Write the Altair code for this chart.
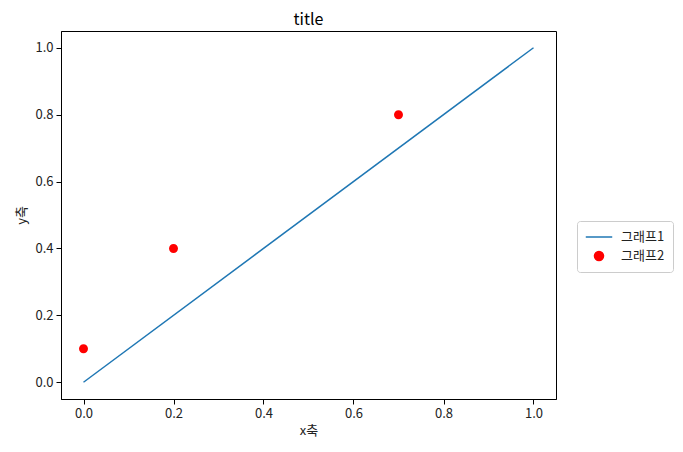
import altair as alt
import pandas as pd

line_x = [0.0, 1.0]
line_y = [0.0, 1.0]
pt_x = [0.0, 0.2, 0.7]
pt_y = [0.1, 0.4, 0.8]
series = ["그래프1", "그래프2"]
colors = ["#1f77b4", "#ff0000"]
ticks = [0.0, 0.2, 0.4, 0.6, 0.8, 1.0]

line_df = pd.DataFrame({"x": line_x, "y": line_y, "s": series[0]})
pt_df = pd.DataFrame({"x": pt_x, "y": pt_y, "s": series[1]})

FONT = "Noto Sans CJK KR"

LINE_PATH = "M-1,0L1,0"
CIRCLE_PATH = "M-0.34,0A0.34,0.34 0 1,0 0.34,0A0.34,0.34 0 1,0 -0.34,0Z"

xs = alt.Scale(domain=[-0.05, 1.05], nice=False, zero=False)
ys = alt.Scale(domain=[-0.05, 1.05], nice=False, zero=False)

xax = alt.Axis(values=ticks, format=".1f", title="x축", grid=False)
yax = alt.Axis(values=ticks, format=".1f", title="y축", grid=False)

color = alt.Color("s:N", scale=alt.Scale(domain=series, range=colors),
                  legend=alt.Legend(title=None, orient="none", legendX=516, legendY=190))
shape = alt.Shape("s:N", scale=alt.Scale(domain=series, range=[LINE_PATH, CIRCLE_PATH]),
                  legend=alt.Legend(title=None, orient="none", legendX=516, legendY=190))

line = alt.Chart(line_df).mark_line(strokeWidth=1.5).encode(
    x=alt.X("x:Q", scale=xs, axis=xax),
    y=alt.Y("y:Q", scale=ys, axis=yax),
    color=color,
)
pts = alt.Chart(pt_df).mark_point(filled=True, size=700, opacity=1).encode(
    x=alt.X("x:Q", scale=xs, axis=xax),
    y=alt.Y("y:Q", scale=ys, axis=yax),
    color=color,
    shape=shape,
)

chart = alt.layer(line, pts).properties(
    width=495, height=368,
    title=alt.Title("title", fontSize=16, font=FONT, fontWeight="normal", offset=3),
    autosize=alt.AutoSizeParams(type="none"),
    padding={"left": 53, "top": 23, "right": 119, "bottom": 45},
).configure_view(
    stroke="black", strokeWidth=1
).configure_axis(
    labelFont=FONT, titleFont=FONT, labelFontSize=13, titleFontSize=13,
    titleFontWeight="normal", labelColor="#222", titleColor="#222",
    domainColor="black", tickColor="black", tickSize=5, labelPadding=3,
    domain=True,
).configure_axisX(titlePadding=4).configure_axisY(titlePadding=6).configure_legend(
    labelFont=FONT, labelFontSize=13, labelColor="#222",
    strokeColor="#cccccc", cornerRadius=3, padding=8, fillColor="white",
    symbolSize=700, symbolStrokeWidth=1.5, rowPadding=3, labelOffset=8,
    clipHeight=16,
)

chart.save("out.html", embed_options={"renderer": "svg", "actions": False})
